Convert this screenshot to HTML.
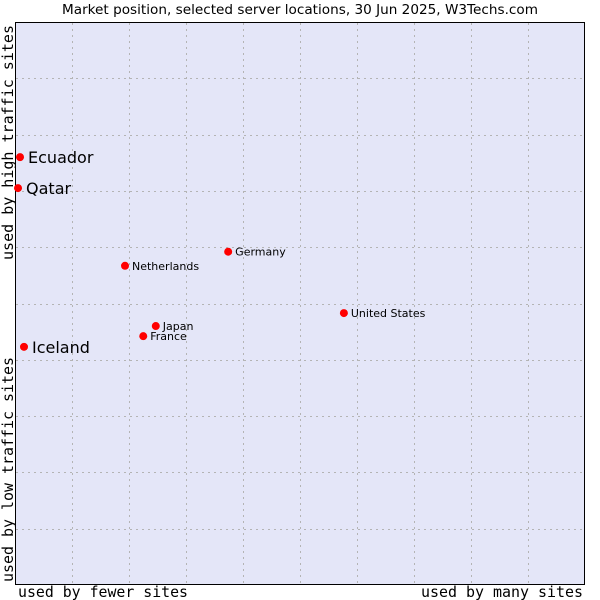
<!DOCTYPE html>
<html><head><meta charset="utf-8"><style>
body{margin:0;background:#fff;}
svg{display:block;font-family:"DejaVu Sans","Liberation Sans",sans-serif;}
.mono{font-family:"DejaVu Sans Mono","Liberation Mono",monospace;font-size:15px;fill:#000;}
</style></head><body>
<svg id="chart" width="600" height="600">
<text x="62" y="14" textLength="476" lengthAdjust="spacingAndGlyphs" font-size="13" fill="#000">Market position, selected server locations, 30 Jun 2025, W3Techs.com</text>
<rect x="15.5" y="22.5" width="569" height="562" fill="#e4e6f8" stroke="#000" stroke-width="1"/>
<g id="grid"></g>
<g id="points"></g>
<text class="mono" x="18" y="597" textLength="170" lengthAdjust="spacingAndGlyphs">used by fewer sites</text>
<text class="mono" x="421" y="597" textLength="162" lengthAdjust="spacingAndGlyphs">used by many sites</text>
<text class="mono" transform="translate(13,582) rotate(-90)" textLength="225" lengthAdjust="spacingAndGlyphs">used by low traffic sites</text>
<text class="mono" transform="translate(13,260) rotate(-90)" textLength="235" lengthAdjust="spacingAndGlyphs">used by high traffic sites</text>
</svg>
<script>
const names=["Ecuador","Qatar","Iceland","Netherlands","Germany","United States","Japan","France"];
const xVals=[0.88,0.53,1.58,19.3,37.4,57.7,24.7,22.5];
const yVals=[76.0,70.5,42.3,56.7,59.2,48.3,46.0,44.2];
const bigLabel=[true,true,true,false,false,false,false,false];
const L=15,R=585,T=22,B=585;
const sx=v=>L+v/100*(R-L), sy=v=>B-v/100*(B-T);
const ns="http://www.w3.org/2000/svg";
const grid=document.getElementById('grid');
for(let i=1;i<10;i++){
  const lx=document.createElementNS(ns,'line');
  
  
  const x=Math.round(sx(i*10))+0.5;
  lx.setAttribute('x1',x);lx.setAttribute('x2',x);lx.setAttribute('y1',T+1);lx.setAttribute('y2',B-1);
  lx.setAttribute('stroke','#b4b4b4');lx.setAttribute('stroke-dasharray','2,4');
  grid.appendChild(lx);
  const ly=document.createElementNS(ns,'line');
  
  
  const y=Math.round(sy(i*10))+0.5;
  ly.setAttribute('y1',y);ly.setAttribute('y2',y);ly.setAttribute('x1',L+1);ly.setAttribute('x2',R-1);
  ly.setAttribute('stroke','#b4b4b4');ly.setAttribute('stroke-dasharray','2,4');
  grid.appendChild(ly);
}
const pts=document.getElementById('points');
names.forEach((n,i)=>{
  const cx=sx(xVals[i]),cy=sy(yVals[i]);
  const c=document.createElementNS(ns,'circle');
  
  
  c.setAttribute('cx',cx);c.setAttribute('cy',cy);c.setAttribute('r',4);c.setAttribute('fill','#f00');
  pts.appendChild(c);
  const t=document.createElementNS(ns,'text');
  
  
  const big=bigLabel[i];
  t.setAttribute('x',cx+(big?8:7));t.setAttribute('y',cy+(big?6:4));
  t.setAttribute('font-size',big?16:11);t.setAttribute('fill','#000');
  t.textContent=n;
  pts.appendChild(t);
});
</script>
</body></html>
